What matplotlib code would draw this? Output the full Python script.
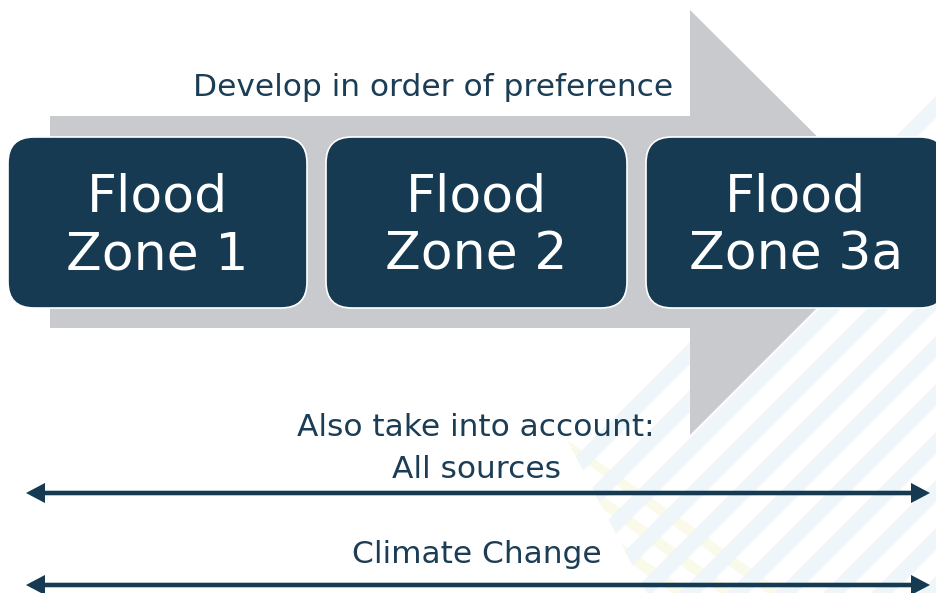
import numpy as np
import matplotlib
matplotlib.use("Agg")
import matplotlib.pyplot as plt
from matplotlib.patches import Polygon, FancyBboxPatch, FancyArrowPatch

# diagram content
zone_top = ["Flood", "Flood", "Flood"]
zone_bottom = ["Zone 1", "Zone 2", "Zone 3a"]
zone_left = [8, 326, 646]
zone_width = [299, 301, 300]
heading = "Develop in order of preference"
also_lines = ["Also take into account:", "All sources"]
climate = "Climate Change"
span_rows = [493, 585]

dark = "#153a52"
text_col = "#1b3d55"
grey = "#c9cacd"

fig = plt.figure(figsize=(9.36, 5.93), dpi=100)
ax = fig.add_axes([0, 0, 1, 1])
ax.set_xlim(0, 936)
ax.set_ylim(593, 0)
ax.axis("off")

# faint striped watermark, lower right
region = Polygon([(936, 78), (567, 440), (647, 593), (936, 593)], closed=True,
                 fill=False, lw=0, transform=ax.transData)
ax.add_patch(region)
yband = Polygon([(567, 440), (647, 593), (790, 593)], closed=True,
                fill=False, lw=0, transform=ax.transData)
ax.add_patch(yband)
for c in np.arange(-40, 200, 34):
    # yellow stripes, falling to the right
    p = Polygon([(400, c + 0.72 * 400), (1000, c + 0.72 * 1000),
                 (1000, c + 0.72 * 1000 + 13), (400, c + 0.72 * 400 + 13)],
                closed=True, fc="#fafaeb", ec="none", zorder=1)
    ax.add_patch(p)
    p.set_clip_path(yband)
for c in np.arange(600, 1600, 48):
    # blue stripes, rising to the right (x + y = c)
    p = Polygon([(c - 700, 700), (c + 100, -100), (c + 122, -100), (c - 678, 700)],
                closed=True, fc="#eef6f9", ec="none", zorder=1.5)
    ax.add_patch(p)
    p.set_clip_path(region)

# big grey arrow
arrow = Polygon([(50, 116), (690, 116), (690, 10), (903, 222), (690, 435),
                 (690, 328), (50, 328)], closed=True, fc=grey, ec="none", zorder=2)
ax.add_patch(arrow)

# zone boxes
for left, w, t1, t2 in zip(zone_left, zone_width, zone_top, zone_bottom):
    box = FancyBboxPatch((left, 137), w, 171,
                         boxstyle="round,pad=0,rounding_size=26",
                         fc=dark, ec="white", lw=1.2, zorder=3)
    ax.add_patch(box)
    cx = left + w / 2
    ax.text(cx, 211, t1, color="white", fontsize=37.5, ha="center", va="baseline", zorder=4)
    ax.text(cx, 269, t2, color="white", fontsize=37.5, ha="center", va="baseline", zorder=4)

fs = 22.5
ax.text(433, 96, heading, color=text_col, fontsize=fs, ha="center", va="baseline", zorder=4)
ax.text(476, 436, also_lines[0], color=text_col, fontsize=fs, ha="center", va="baseline", zorder=4)
ax.text(477, 478, also_lines[1], color=text_col, fontsize=fs, ha="center", va="baseline", zorder=4)
ax.text(477, 563, climate, color=text_col, fontsize=fs, ha="center", va="baseline", zorder=4)

for y in span_rows:
    arr = FancyArrowPatch((26, y), (930, y),
                          arrowstyle="<|-|>,head_length=0.85,head_width=0.45",
                          mutation_scale=10, shrinkA=0, shrinkB=0,
                          fc=dark, ec=dark, lw=3.3, joinstyle="miter",
                          capstyle="butt", zorder=4)
    ax.add_patch(arr)

fig.savefig("out.png", dpi=100, facecolor="white")
